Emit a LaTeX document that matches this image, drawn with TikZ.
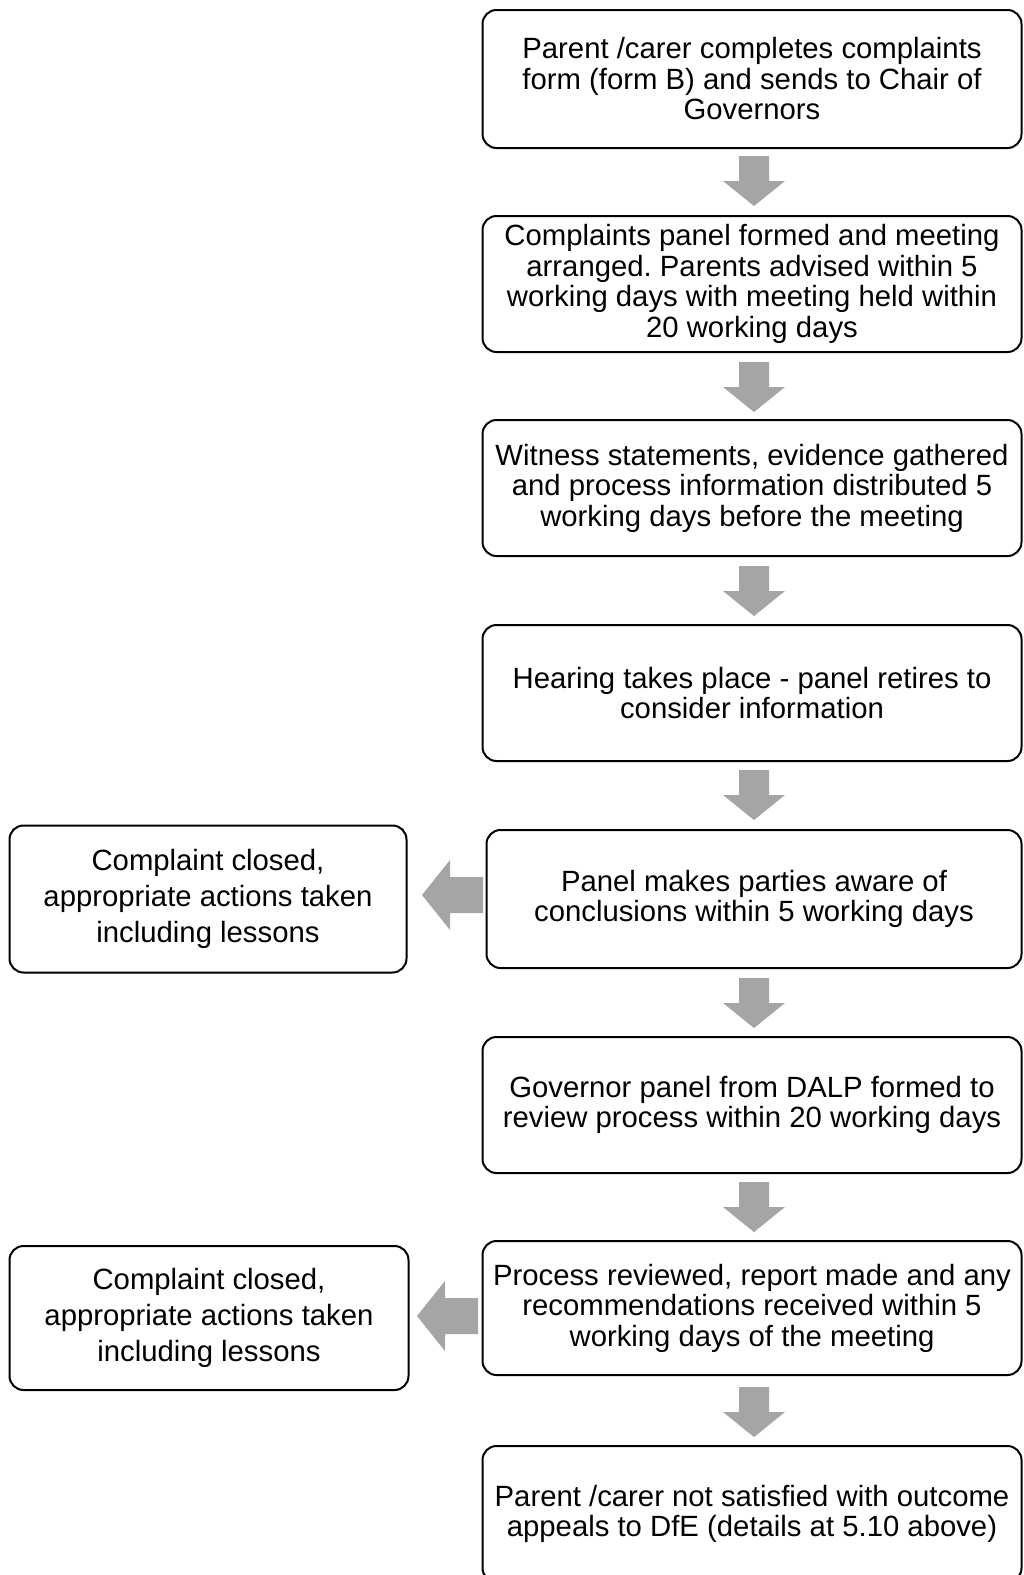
\documentclass[tikz,border=0pt]{standalone}
\usepackage{fontspec}
\setmainfont{Liberation Sans}
\frenchspacing
\definecolor{arrowgray}{HTML}{A5A5A5}
\begin{document}
\begin{tikzpicture}[x=1pt,y=-1pt,
  box/.style={draw=black, line width=2pt, rounded corners=14pt, align=center, inner sep=0pt,
    font=\fontsize{29.3}{30.5}\selectfont},
  sidebox/.style={box, font=\fontsize{29.3}{36}\selectfont},
  downarrow/.pic={\fill[arrowgray] (-15,0) -- (15,0) -- (15,25) -- (31,25) -- (0,50) -- (-31,25) -- (-15,25) -- cycle;},
  leftarrow/.pic={\fill[arrowgray] (0,-18) -- (-33,-18) -- (-33,-35) -- (-61,0) -- (-33,35) -- (-33,18) -- (0,18) -- cycle;}
]
\useasboundingbox (0,0) rectangle (1024,1575);
\node[box, minimum width=539pt, minimum height=138pt] (b1) at (752,79) {Parent /carer completes complaints\\form (form B) and sends to Chair of\\Governors};
\node[box, minimum width=539pt, minimum height=136pt] (b2) at (752,284) {Complaints panel formed and meeting\\arranged. Parents advised within 5\\working days with meeting held within\\20 working days};
\node[box, minimum width=539pt, minimum height=136pt] (b3) at (752,488) {Witness statements, evidence gathered\\and process information distributed 5\\working days before the meeting};
\node[box, minimum width=539pt, minimum height=136pt] (b4) at (752,693) {Hearing takes place - panel retires to\\consider information};
\node[box, minimum width=535pt, minimum height=138pt] (b5) at (754,899) {Panel makes parties aware of\\conclusions within 5 working days};
\node[sidebox, minimum width=397pt, minimum height=147pt] (l1) at (208,899) {Complaint closed,\\appropriate actions taken\\including lessons};
\node[box, minimum width=539pt, minimum height=136pt] (b6) at (752,1105) {Governor panel from DALP formed to\\review process within 20 working days};
\node[box, minimum width=539pt, minimum height=134pt] (b7) at (752,1308) {Process reviewed, report made and any\\recommendations received within 5\\working days of the meeting};
\node[sidebox, minimum width=399pt, minimum height=144pt] (l2) at (209,1318) {Complaint closed,\\appropriate actions taken\\including lessons};
\node[box, minimum width=539pt, minimum height=136pt] (b8) at (752,1514) {Parent /carer not satisfied with outcome\\appeals to DfE (details at 5.10 above)};
\pic at (754,156) {downarrow};
\pic at (754,362) {downarrow};
\pic at (754,566) {downarrow};
\pic at (754,770) {downarrow};
\pic at (754,978) {downarrow};
\pic at (754,1182) {downarrow};
\pic at (754,1387) {downarrow};
\pic at (483,895) {leftarrow};
\pic at (478,1316) {leftarrow};
\end{tikzpicture}
\end{document}
